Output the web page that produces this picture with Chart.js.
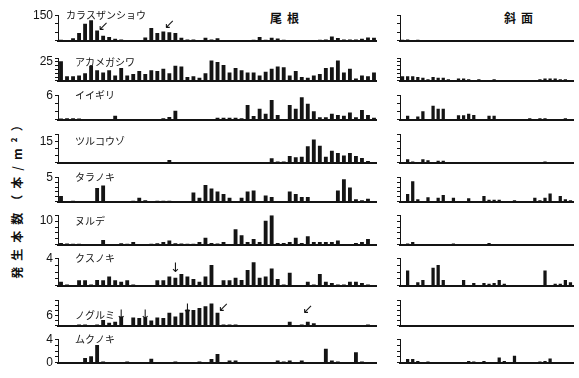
<!DOCTYPE html>
<html>
<head>
<meta charset="utf-8">
<script src="https://cdn.jsdelivr.net/npm/chart.js@4.4.1/dist/chart.umd.min.js"></script>
<style>
  body { margin: 0; background: #fff; }
  #wrap { position: relative; width: 579px; height: 378px; overflow: hidden; }
  .head { position: absolute; font: bold 12px "Noto Sans CJK JP"; letter-spacing: 5px; color: #111; }
  #ytitle { position: absolute; left: 16px; top: 196px; transform: translate(-50%, -50%) rotate(-90deg);
            font: bold 12px "Noto Sans CJK JP"; letter-spacing: 6px; white-space: nowrap; color: #111; }
</style>
</head>
<body>
<div id="wrap">
  <div class="head" style="left:270px;top:9px">尾根</div>
  <div class="head" style="left:504px;top:9px">斜面</div>
  <div id="ytitle">発生本数（本/m²）</div>
</div>
<script>
// plot numbers along the ridge and the slope
const ridgeNo = Array.from({length: 53}, (_, i) => i + 1);
const slopeNo = Array.from({length: 34}, (_, i) => i + 1);

const species = ["カラスザンショウ", "アカメガシワ", "イイギリ", "ツルコウゾ", "タラノキ", "ヌルデ", "クスノキ", "ノグルミ", "ムクノキ"];
const axisMax   = [150, 30, 6, 20, 5, 12.5, 4, 15, 4];
const axisLabel = [150, 25, 6, 15, 5, 10, 4, 6, 4];
const axisStep  = [50, 5, 2, 5, 1, 2.5, 1, 3, 1];

const ridgeKarasu = [6,3,15,45,100,120,60,30,22,12,8,3,3,3,20,75,45,55,50,45,18,8,8,4,18,8,15,4,2,2,2,2,6,22,6,18,14,6,4,2,2,3,4,6,8,25,16,8,8,8,12,20,18];
const slopeKarasu = [6,7,4,6,3,2,2,1,1,1,1,1,1,1,5,1,1,1,1,1,0,1,0,1,0,1,0,1,0,1,0,1,0,1];
const ridgeAkame = [26,6,6,7,10,20,14,11,14,7,17,7,9,13,9,14,13,16,10,20,19,5,6,4,10,27,25,21,11,17,14,11,11,7,12,16,19,18,7,13,5,4,7,9,17,18,27,11,16,3,7,6,11];
const slopeAkame = [6,6,6,5,4,2,5,4,4,2,1,3,3,2,1,2,1,1,2,0,0,0,0,0,0,0,1,2,3,3,3,2,2,1];
const ridgeIigiri = [0.3,0.4,0.4,0.3,0,0,0,0,0,1.0,0,0,0,0,0,0,0,0.4,0.7,2.2,0,0.2,0.2,0.2,0.2,0,0.5,0.5,0.5,0.5,0.4,3.6,0.9,2.7,1.5,4.8,1.2,0,3.6,2.7,5.5,3.9,2.1,0.6,0.6,1.5,1.2,1.0,1.8,0.6,2.4,1.2,0.5];
const slopeIigiri = [0,1.0,0,0.8,2.1,0,3.4,2.7,2.7,0,0,1.1,1.1,1.5,1.2,0,0,1.0,1.0,0.2,0,0,0.2,0,0,0.4,0,0.4,0.4,0,0,0,0.4,0];
const ridgeTsuru = [0.6,0.6,0.4,0.6,0,0,0,0,0,0,0,0,0,0,0,0,0.4,0.6,1.9,0.6,0.4,0,0.6,0.6,0,0,0.4,0,0,0,0.5,0.5,0.5,0.5,0,3.1,0.9,0.9,4.8,3.8,4.3,11.6,16.3,12,4.3,8.5,6.9,5.1,6.9,4.8,3.4,1.3,0.5];
const slopeTsuru = [0,2.5,0.9,0.5,2.5,1.8,0,1.4,1.4,0,0,0.4,0.5,0.4,0.5,0.4,0.5,0.6,0.4,0.4,0.4,0.4,0,0,0,0,0,0.4,0.9,0,0,0,0.3,0.3];
const ridgeTara = [1.2,0,0.2,0,0,0,2.8,3.3,0,0,0,0,0.2,0.8,0.3,0,0.2,0.2,0.2,0,0,0,1.9,0.8,3.4,2.7,2.1,1.6,0.8,0.1,0.8,2.1,2.3,0.1,1.3,1.0,0.1,0.1,2.1,1.6,1.0,1.0,0.1,0.1,0.1,0.1,2.3,4.6,2.9,0.5,0.3,0.6,0];
const slopeTara = [0,1.6,4.2,0.5,0,0.9,0,0.8,1.4,0,0.8,0.1,0.1,0.7,0,0,1.2,0.4,0.4,0.4,0,0,0.3,0,0.1,0,0.8,0.3,0.8,1.7,0,1.2,0.5,0.3];
const ridgeNurude = [0.8,0.5,0.4,0.4,0,0,0,2,0,0,0.7,0.4,1.2,0,0,0.4,0.7,1.2,1.8,0.7,0.5,0.4,0.4,1.2,3,0.8,0.5,1.2,0,6.6,4,1.2,2.4,1.2,10.2,12.5,0.8,0.8,1.2,3,0.8,3.6,1.2,1.2,1.2,1.2,1.8,0.3,0.3,0.8,1.2,2.4,0];
const slopeNurude = [0,0.5,1.2,0.3,0.3,0.3,0.3,0.3,0,0,0.5,0.3,0.2,0.2,0.2,0.2,0,0.8,0.3,0,0.1,0.1,0.1,0,0.1,0,0,0,0,0,0.1,0.3,0.1,0];
const ridgeKusu = [0.6,0.2,0,0.8,0.8,0.2,0.85,0.8,1.35,0.8,0.6,0.8,0.2,0,0,0,0.8,0.8,1.35,1.15,1.7,1.35,1.0,0.6,1.35,3.0,0.1,0.8,0.8,1.15,0.85,2.3,3.4,1.15,1.35,2.5,1.0,0.2,1.9,0.1,0.1,0.6,0.2,1.7,0.6,0.4,0.2,0.2,0.6,0.6,0.4,0.2,0];
const slopeKusu = [0,2.2,0,0.5,0.85,0,2.6,3.0,0.85,0,0.1,0.1,0.85,0.1,0.4,0,0.4,0.3,0.4,0.85,0.3,0,0.1,0,0.1,0.1,0,0.1,2.2,0,0.3,0.3,0.85,0.5];
const ridgeNoguru = [0,0,0,0.8,0.8,0,0.8,3.4,1.8,2.3,5.4,0,4.9,4.6,4.9,3.1,4.9,4.6,7.7,5.4,7.7,9.5,9.2,10.5,11.5,13,7.7,0.8,0.8,0.8,0.5,0,0,0,0,0,0,0,2.3,0,0.8,2.3,1.5,0,0,0,0,0,0,0,0,0.8,0];
const slopeNoguru = [0,0,0,0,0,0,0,0,0,0,0,0,0,0,0,0,0,0,0,0,0,0,0,0,0,0,0,0,0,0,0,0,0,0];
const ridgeMuku = [0.1,0,0,0,0.8,1.1,3.0,0.2,0,0,0,0.2,0,0,0.1,0.7,0,0.1,0,0.2,0,0.1,0,0.2,0,0.65,1.5,0,0.4,0.4,0,0,0.1,0.1,0,0,0.4,0.2,0.4,0,0.4,0,0,0,2.4,0.4,0.2,0,0,1.8,0.2,0.1,0.1];
const slopeMuku = [0,0.65,0.65,0.3,0,0.2,0,0,0.05,0.05,0,0,0,0.3,0.2,0,0.3,0,0,0.9,0.3,0,1.2,0,0,0,0.1,0.2,0.3,0.75,0.1,0.1,0.1,0.1];

// arrows marking fruiting trees: [row, plot index, value, glyph]
const arrows = [[0,7,82,"↙"],[0,18,94,"↙"],[6,19,2.5,"↓"],[7,10,6.2,"↓"],[7,14,6.2,"↓"],[7,21,9.3,"↓"],[7,27,10.6,"↙"],[7,41,9.7,"↙"]];

const ridgeData = [ridgeKarasu, ridgeAkame, ridgeIigiri, ridgeTsuru, ridgeTara, ridgeNurude, ridgeKusu, ridgeNoguru, ridgeMuku];
const slopeData = [slopeKarasu, slopeAkame, slopeIigiri, slopeTsuru, slopeTara, slopeNurude, slopeKusu, slopeNoguru, slopeMuku];

// panel top / baseline in page pixels
const rows = [[14,48],[57,88],[94,127],[133,170],[176,209],[214,252],[257,293],[299,333],[338,370]];

const wrap = document.getElementById('wrap');
const ink = '#141414';

const notes = {
	id: 'notes',
	afterDraw(chart, args, o) {
		if (!o.name) return;
		const {ctx, chartArea, scales} = chart;
		ctx.save();
		ctx.fillStyle = ink;
		ctx.textBaseline = 'middle';
		ctx.font = '10px "Noto Sans CJK JP"';
		ctx.fillText(o.name, chartArea.left + (o.row === 0 ? 8 : 17), scales.y.getPixelForValue(axisLabel[o.row]));
		ctx.font = '13px "DejaVu Sans"';
		ctx.textAlign = 'center';
		arrows.filter(a => a[0] === o.row).forEach(a => {
			ctx.fillText(a[3], scales.x.getPixelForValue(a[1]), scales.y.getPixelForValue(a[2]));
		});
		ctx.restore();
	}
};

function panel(r, ridge) {
	const cv = document.createElement('canvas');
	const left = ridge ? 18 : 378;
	const width = ridge ? 359 : 197;
	cv.width = width;
	cv.height = rows[r][1] - rows[r][0] + 10;
	cv.style.cssText = `position:absolute;left:${left}px;top:${rows[r][0] - 8}px`;
	wrap.appendChild(cv);

	new Chart(cv, {
		type: 'bar',
		data: {
			labels: ridge ? ridgeNo : slopeNo,
			datasets: [{
				data: ridge ? ridgeData[r] : slopeData[r],
				backgroundColor: ink,
				barPercentage: 0.64,
				categoryPercentage: 1
			}]
		},
		options: {
			responsive: false,
			animation: false,
			layout: { padding: { top: 8, bottom: 2, left: 0, right: ridge ? 0 : 2 } },
			plugins: {
				legend: { display: false },
				tooltip: { enabled: false },
				notes: { row: r, name: ridge ? species[r] : null }
			},
			scales: {
				x: {
					grid: { drawOnChartArea: false, drawTicks: false },
					ticks: { display: false },
					border: { color: ink, width: 2 },
					afterFit: s => { s.height = 0; }
				},
				y: {
					min: 0,
					max: axisMax[r],
					ticks: {
						stepSize: axisStep[r],
						autoSkip: false,
						padding: 2,
						color: ink,
						font: { family: 'Liberation Sans', size: 12 },
						callback: v => (ridge && (v === axisLabel[r] || (r === 8 && v === 0))) ? String(v) : ''
					},
					grid: { drawOnChartArea: false, tickLength: 3, color: ink },
					border: { color: ink, width: 1 },
					afterFit: s => { s.width = ridge ? 40 : 22; }
				}
			}
		},
		plugins: [notes]
	});
}

for (let r = 0; r < rows.length; r++) {
	panel(r, true);
	panel(r, false);
}
</script>
</body>
</html>
